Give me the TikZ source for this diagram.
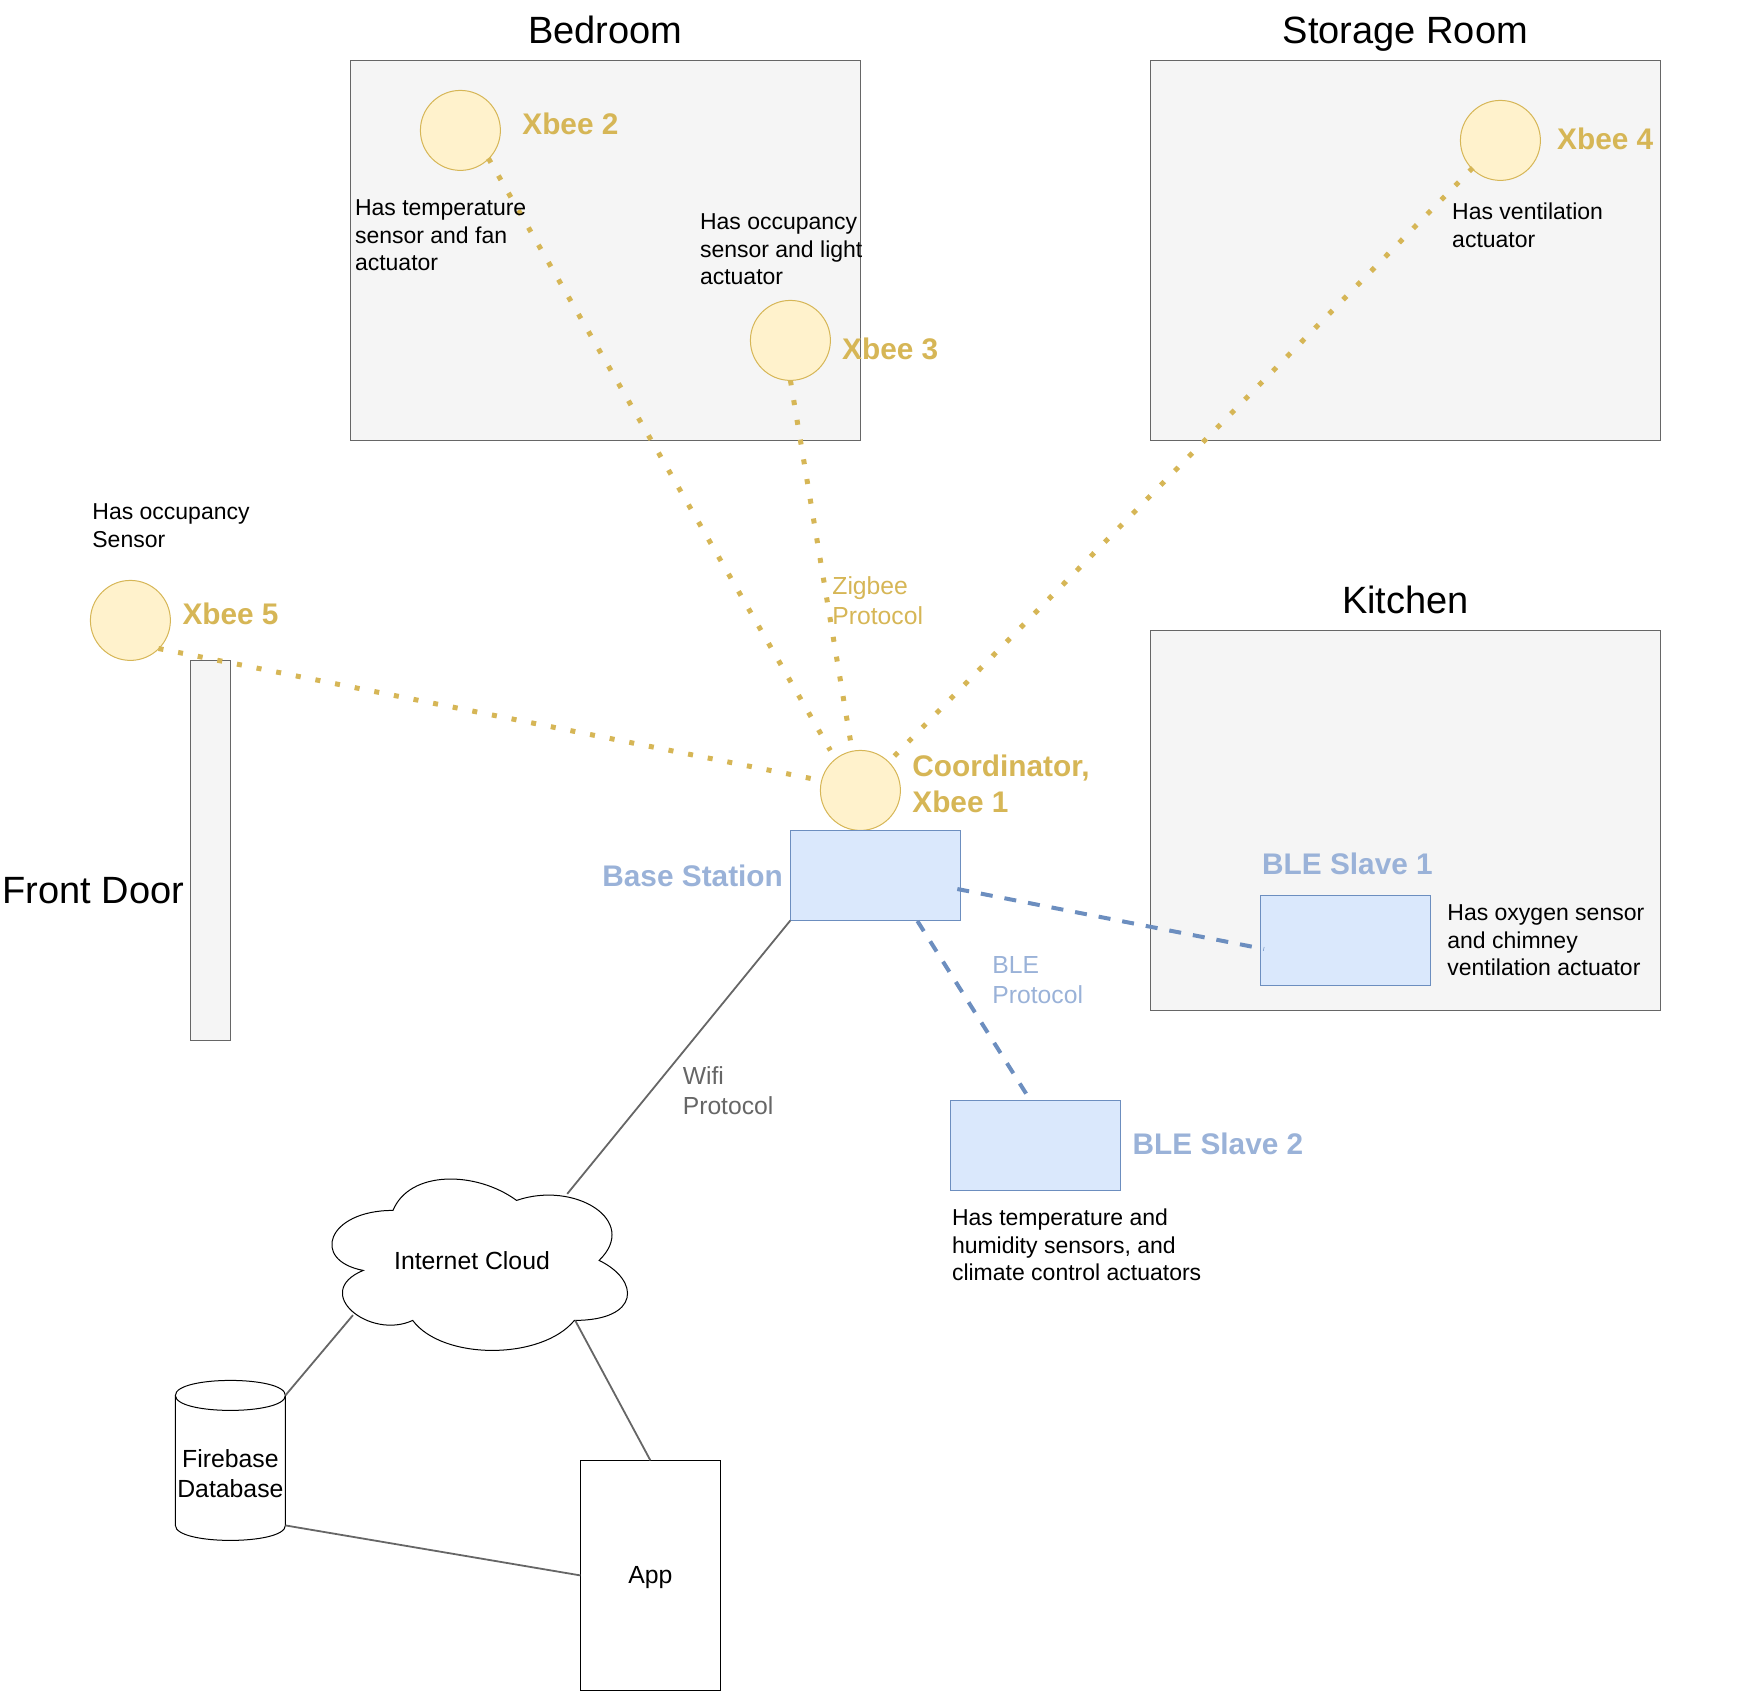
\documentclass[tikz,border=0pt]{standalone}
\usepackage{fontspec}
\setmainfont{Liberation Sans}
\usetikzlibrary{calc}
\definecolor{goldS}{HTML}{D6B656}
\definecolor{goldF}{HTML}{FFF2CC}
\definecolor{blueS}{HTML}{6C8EBF}
\definecolor{blueF}{HTML}{DAE8FC}
\definecolor{blueT}{HTML}{9AB2D8}
\definecolor{greyS}{HTML}{666666}
\definecolor{greyF}{HTML}{F5F5F5}
\tikzset{
  x=1pt,y=-1pt,
  boxbase/.style={rectangle,inner sep=0pt,outer sep=0pt,line width=1pt,anchor=center},
  room/.style={boxbase,draw=greyS,fill=greyF,minimum width=510pt,minimum height=380pt},
  doorbox/.style={boxbase,draw=greyS,fill=greyF,minimum width=40pt,minimum height=380pt},
  bluebox/.style={boxbase,draw=blueS,fill=blueF,minimum width=170pt,minimum height=90pt},
  xbee/.style={circle,inner sep=0pt,outer sep=0pt,draw=goldS,fill=goldF,line width=1pt,minimum size=80pt},
  appbox/.style={boxbase,draw=black,fill=white,minimum width=140pt,minimum height=230pt,text depth=0pt,font=\fontsize{24.8}{29.5}\selectfont},
  ghost/.style={rectangle,inner sep=0pt,outer sep=0pt,align=center},
  title/.style={inner sep=0pt,anchor=base,font=\fontsize{38}{45}\selectfont},
  goldlab/.style={inner sep=0pt,anchor=west,align=left,text=goldS,font=\bfseries\fontsize{29.8}{36}\selectfont},
  bluelab/.style={inner sep=0pt,anchor=west,align=left,text=blueT,font=\bfseries\fontsize{29.8}{36}\selectfont},
  note/.style={inner sep=0pt,anchor=west,align=left,font=\fontsize{23}{27.5}\selectfont},
  proto/.style={inner sep=0pt,anchor=west,align=left,font=\fontsize{24.7}{30}\selectfont},
  zig/.style={draw=goldS,line width=5pt,dash pattern=on 5pt off 15pt},
  ble/.style={draw=blueS,line width=4pt,dash pattern=on 12pt off 12pt},
  wire/.style={draw=greyS,line width=1.8pt},
}
\begin{document}
\begin{tikzpicture}
\useasboundingbox (0,0) rectangle (1745,1691);
% rooms
\node[room] (bedroom) at (605.4,250.4) {};
\node[room] (storage) at (1405.4,250.4) {};
\node[room] (kitchen) at (1405.4,820.4) {};
\node[doorbox] (door) at (210.4,850.4) {};
% devices
\node[xbee] (xbee2) at (460.4,130.4) {};
\node[xbee] (xbee3) at (790.4,340.4) {};
\node[xbee] (xbee4) at (1500.4,140.4) {};
\node[xbee] (xbee5) at (130.4,620.4) {};
\node[xbee] (coord) at (860.4,790.4) {};
\node[bluebox] (base) at (875.4,875.4) {};
\node[bluebox] (ble1) at (1345.4,940.4) {};
\node[bluebox] (ble2) at (1035.4,1145.4) {};
% cloud
\draw[line width=1pt,fill=white]
  (393,1210.4) .. controls (326.9,1210.4) and (310.4,1260.4) .. (363.2,1270.4)
  .. controls (310.4,1292.4) and (369.8,1340.4) .. (412.7,1320.4)
  .. controls (442.4,1360.4) and (541.4,1360.4) .. (574.4,1320.4)
  .. controls (640.4,1320.4) and (640.4,1280.4) .. (599.1,1260.4)
  .. controls (640.4,1220.4) and (574.4,1180.4) .. (516.6,1200.4)
  .. controls (475.4,1170.4) and (409.4,1170.4) .. (393,1210.4) -- cycle;
\node[ghost,minimum width=330pt,minimum height=200pt] (cloud) at (475.4,1260.4) {};
% database
\draw[line width=1pt,fill=white]
  (175.4,1395.4) .. controls (175.4,1375.4) and (285.4,1375.4) .. (285.4,1395.4)
  -- (285.4,1525.4) .. controls (285.4,1545.4) and (175.4,1545.4) .. (175.4,1525.4) -- cycle;
\draw[line width=1pt] (175.4,1395.4) .. controls (175.4,1415.4) and (285.4,1415.4) .. (285.4,1395.4);
\node[ghost,minimum width=110pt,minimum height=134pt,font=\fontsize{24.8}{30.5}\selectfont] (db) at (230.4,1473.4) {Firebase\\Database};
\node[appbox] (app) at (650.4,1575.4) {App};
% connectors
\draw[zig] ($(xbee2.center)+(28,27.9)$) -- ($(coord.center)+(-30,-40)$);
\draw[zig] (xbee3.south) -- ($(coord.center)+(-10,-50)$);
\draw[zig] ($(xbee4.center)+(-27.65,27.4)$) -- ($(coord.center)+(34,-34.4)$);
\draw[zig] ($(xbee5.center)+(28.1,28.1)$) -- ($(coord.center)+(-49.5,-11.9)$);
\draw[ble] ($(base.center)+(81.9,13.6)$) -- ($(ble1.center)+(-81.4,8.6)$);
\draw[ble] ($(base.center)+(42,45.6)$) -- ($(ble2.center)+(-5,-45)$);
\draw[wire] (base.south west) -- ($(cloud.center)+(91.8,-66.5)$);
\draw[wire] ($(cloud.center)+(-122.4,54.7)$) -- ($(db.center)+(55,-78)$);
\draw[wire] ($(cloud.center)+(99.8,60.1)$) -- (app.north);
\draw[wire] ($(db.center)+(55,52)$) -- (app.west);
% texts
\node[note,anchor=center,font=\fontsize{24.8}{30}\selectfont] (cloudtxt) at (472,1261) {Internet Cloud};
\node[title] (tbed) at (605.4,43.2) {Bedroom};
\node[title] (tsto) at (1405.4,43.2) {Storage Room};
\node[title] (tkit) at (1405.4,613.2) {Kitchen};
\node[title,anchor=base west] (tdoor) at (2.5,903.2) {Front Door};
\node[goldlab] (l2) at (522.2,123.6) {Xbee 2};
\node[goldlab] (l3) at (842,348.5) {Xbee 3};
\node[goldlab] (l4) at (1557,138.8) {Xbee 4};
\node[goldlab] (l5) at (182.3,614) {Xbee 5};
\node[goldlab] (l1) at (912.2,783.7) {Coordinator,\\Xbee 1};
\node[bluelab] (lb) at (602.2,875.8) {Base Station};
\node[bluelab] (ls1) at (1262,863.6) {BLE Slave 1};
\node[bluelab] (ls2) at (1132.5,1143.8) {BLE Slave 2};
\node[note] (n2) at (354.8,235.2) {Has temperature\\sensor and fan\\actuator};
\node[note] (n3) at (699.8,249.4) {Has occupancy\\sensor and light\\actuator};
\node[note] (n5) at (92.2,525.6) {Has occupancy\\Sensor};
\node[note] (n4) at (1452,225.2) {Has ventilation\\actuator};
\node[note] (ns1) at (1447.2,940.5) {Has oxygen sensor\\and chimney\\ventilation actuator};
\node[note] (ns2) at (951.8,1245.2) {Has temperature and\\humidity sensors, and\\climate control actuators};
\node[proto,text=goldS] (pz) at (832.2,600.8) {Zigbee\\Protocol};
\node[proto,text=greyS] (pw) at (682.6,1090.3) {Wifi\\Protocol};
\node[proto,text=blueT] (pb) at (992.2,980.5) {BLE\\Protocol};
\end{tikzpicture}
\end{document}
